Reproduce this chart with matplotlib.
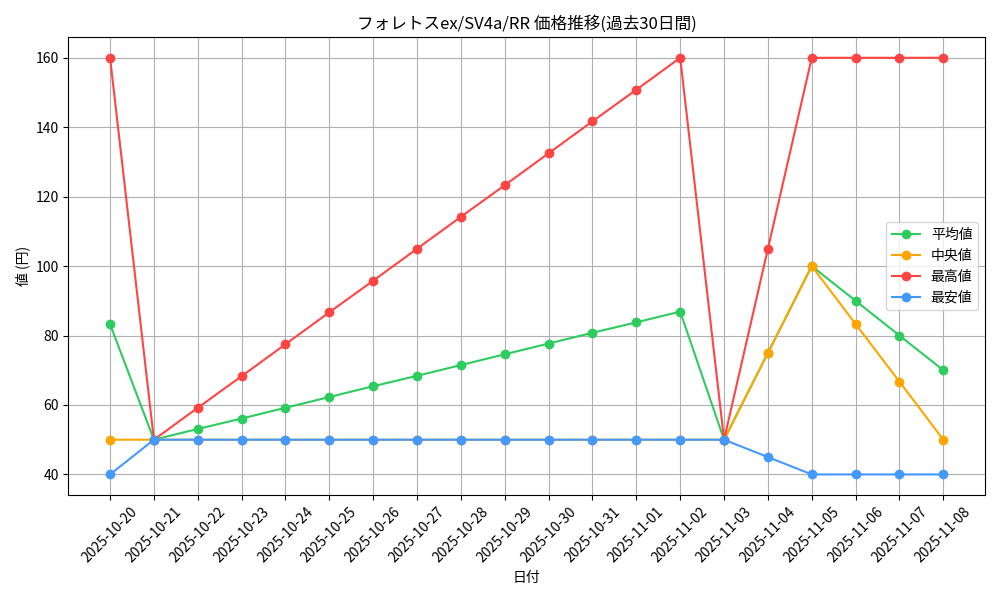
import matplotlib
matplotlib.use("Agg")
import matplotlib.pyplot as plt

plt.rcParams['font.family'] = ['Noto Sans CJK JP', 'DejaVu Sans']

dates = ["2025-10-20","2025-10-21","2025-10-22","2025-10-23","2025-10-24","2025-10-25","2025-10-26",
         "2025-10-27","2025-10-28","2025-10-29","2025-10-30","2025-10-31","2025-11-01","2025-11-02",
         "2025-11-03","2025-11-04","2025-11-05","2025-11-06","2025-11-07","2025-11-08"]
avg = [83.3,50,53.1,56.1,59.2,62.3,65.4,68.4,71.5,74.6,77.7,80.8,83.8,86.9,50,75,100,90,80,70]
median = [50,50,50,50,50,50,50,50,50,50,50,50,50,50,50,75,100,83.3,66.7,50]
maxv = [160,50,59.2,68.3,77.5,86.7,95.8,105,114.2,123.3,132.5,141.7,150.8,160,50,105,160,160,160,160]
minv = [40,50,50,50,50,50,50,50,50,50,50,50,50,50,50,45,40,40,40,40]

fig, ax = plt.subplots(figsize=(10, 6), dpi=100)
x = range(len(dates))
ax.plot(x, avg, marker='o', color='#2ecc5f', label='平均値')
ax.plot(x, median, marker='o', color='#ffa500', label='中央値')
ax.plot(x, maxv, marker='o', color='#ff4444', label='最高値')
ax.plot(x, minv, marker='o', color='#4499ff', label='最安値')
ax.set_xticks(list(x))
ax.set_xticklabels(dates, rotation=45)
ax.set_title('フォレトスex/SV4a/RR 価格推移(過去30日間)')
ax.set_xlabel('日付')
ax.set_ylabel('値 (円)')
ax.grid(True)
ax.legend(loc='center right')
fig.tight_layout()
fig.savefig('out.png')
